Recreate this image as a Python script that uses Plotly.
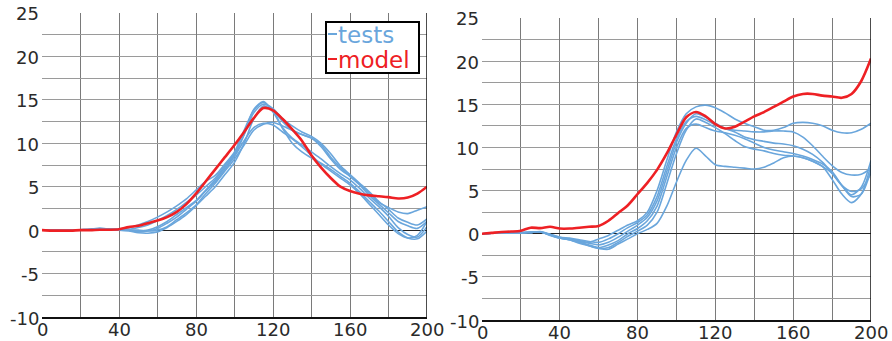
import plotly.graph_objects as go

W, H = 892, 341

x = list(range(0, 201, 5))

# ---------- left panel ----------
left_model = [0, -0.05, -0.05, -0.05, 0, 0, 0.05, 0.05, 0.1,
              0.35, 0.5, 0.8, 1.1, 1.5, 2.1, 3.0, 4.2,
              5.6, 7.0, 8.4, 9.8, 11.3, 12.9, 14.05, 13.8,
              12.8, 11.6, 10.3, 8.6, 7.2, 6.0, 5.0, 4.5,
              4.2, 4.0, 3.9, 3.8, 3.65, 3.75, 4.2, 5.0]

left_tests = [
    [0, 0, 0, 0, 0.05, 0.1, 0.15, 0.1, 0.1,
     0.3, 0.6, 1.0, 1.5, 2.1, 2.8, 3.6, 4.6,
     5.6, 6.3, 7.6, 9.0, 11.5, 13.8, 14.7, 13.8,
     12.5, 11.5, 11.0, 10.6, 9.6, 8.2, 7.0, 6.2,
     5.3, 4.2, 3.2, 2.6, 2.1, 1.9, 2.3, 2.7],
    [0, 0, -0.05, 0, 0.05, 0.1, 0.2, 0.15, 0.1,
     0.1, 0.3, 0.6, 1.1, 1.7, 2.4, 3.2, 4.0,
     5.0, 6.0, 7.4, 8.8, 11.0, 13.5, 14.5, 14.0,
     12.8, 12.0, 11.3, 10.8, 10.0, 8.8, 7.4, 6.4,
     5.4, 4.4, 3.3, 2.4, 1.4, 0.9, 0.6, 1.3],
    [0, 0, 0, 0, 0, 0.05, 0.1, 0.05, 0,
     0, -0.1, 0, 0.4, 1.0, 1.8, 2.6, 3.4,
     4.6, 5.8, 7.2, 8.6, 11.0, 13.9, 14.8, 13.6,
     11.8, 10.6, 9.8, 9.0, 8.2, 7.3, 6.5, 5.8,
     4.8, 3.7, 2.7, 1.6, 0.3, -0.5, -0.8, 0.4],
    [0, 0, 0, 0, 0, 0.05, 0.1, 0.05, 0,
     -0.1, -0.3, -0.35, -0.2, 0.3, 1.0, 1.8, 2.8,
     3.9, 5.0, 6.4, 7.8, 10.0, 12.8, 14.3, 13.7,
     11.7, 10.0, 9.0, 8.3, 7.7, 7.0, 6.2, 5.4,
     4.4, 3.3, 2.2, 1.0, -0.2, -0.9, -1.0, -0.1],
    [0, 0, 0, 0, 0.05, 0.1, 0.2, 0.1, 0.05,
     0, 0, -0.1, 0, 0.4, 1.2, 2.0, 2.9,
     4.2, 5.4, 6.8, 8.2, 9.8, 11.5, 12.2, 12.4,
     12.0, 11.5, 11.0, 10.6, 9.8, 8.4, 7.2, 6.2,
     5.2, 4.0, 3.0, 2.0, 1.0, 0.5, 0.2, 1.0],
    [0, 0, 0, 0, 0, 0.05, 0.1, 0.05, 0,
     0, -0.2, -0.1, 0.2, 0.8, 1.5, 2.4, 3.3,
     4.5, 5.6, 7.0, 8.5, 10.3, 11.8, 12.3, 12.1,
     11.3, 10.5, 9.6, 8.6, 7.6, 6.8, 6.0, 5.2,
     4.2, 3.0, 1.8, 0.6, -0.4, -0.9, -0.6, 1.0],
]

# ---------- right panel ----------
right_model = [0, 0.1, 0.2, 0.25, 0.35, 0.7, 0.65, 0.8, 0.6,
               0.6, 0.7, 0.8, 0.9, 1.5, 2.4, 3.3, 4.6,
               5.9, 7.4, 9.3, 11.5, 13.5, 14.1, 13.6, 12.7,
               12.2, 12.4, 13.0, 13.6, 14.1, 14.7, 15.3, 15.9,
               16.2, 16.2, 16.0, 15.9, 15.75, 16.2, 17.7, 20.3]

right_tests = [
    [0, 0.05, 0.05, 0.1, 0.1, 0.15, 0.2, -0.1, -0.4,
     -0.6, -0.8, -1.0, -0.6, -0.2, 0.4, 1.0, 1.5,
     2.5, 5.0, 8.5, 11.8, 13.9, 14.7, 14.9, 14.6,
     14.0, 13.3, 12.8, 12.4, 12.0, 12.0, 12.3, 12.8,
     12.9, 12.8, 12.5, 12.0, 11.7, 11.7, 12.1, 12.8],
    [0, 0.05, 0.05, 0.1, 0.15, 0.15, 0.25, -0.05, -0.4,
     -0.5, -0.7, -0.9, -1.0, -0.6, 0.0, 0.7, 1.3,
     2.2, 4.3, 7.8, 11.0, 13.0, 13.6, 13.2, 12.6,
     12.2, 12.0, 11.9, 11.8, 11.8, 11.9, 11.9, 11.8,
     11.2, 10.2, 9.0, 7.9, 7.1, 6.8, 6.9, 7.6],
    [0, 0.05, 0.05, 0.1, 0.1, 0.2, 0.2, -0.1, -0.5,
     -0.6, -0.9, -1.1, -1.3, -1.0, -0.4, 0.3, 1.0,
     1.9, 3.8, 7.2, 10.6, 12.8, 13.9, 13.5, 12.8,
     12.2, 11.8, 11.2, 10.9, 10.7, 10.5, 10.4, 10.2,
     9.8, 9.2, 8.3, 7.0, 5.6, 4.9, 5.2, 7.0],
    [0, 0.05, 0.05, 0.1, 0.1, 0.15, 0.2, -0.15, -0.5,
     -0.7, -1.0, -1.3, -1.6, -1.3, -0.8, 0.0, 0.6,
     1.5, 3.2, 6.6, 10.0, 12.2, 12.7, 12.3, 11.9,
     11.7, 11.4, 11.0, 10.5, 10.0, 9.7, 9.5, 9.3,
     9.0, 8.6, 8.1, 7.2, 5.6, 4.3, 4.6, 7.4],
    [0, 0.05, 0.05, 0.1, 0.1, 0.15, 0.2, -0.15, -0.5,
     -0.7, -1.0, -1.4, -1.7, -1.6, -1.0, -0.3, 0.3,
     1.0, 2.5, 5.8, 9.3, 12.0, 13.3, 12.9, 12.3,
     11.6, 10.8, 10.1, 9.8, 9.6, 9.3, 9.1, 9.0,
     8.8, 8.4, 7.8, 6.3, 4.6, 3.6, 4.6, 8.0],
    [0, 0.05, 0.05, 0.1, 0.1, 0.15, 0.2, -0.2, -0.5,
     -0.7, -1.1, -1.4, -1.7, -1.8, -1.2, -0.6, 0.0,
     0.5, 1.2, 3.2, 6.0, 8.5, 9.9, 9.0, 8.0,
     7.8, 7.7, 7.6, 7.5, 7.7, 8.2, 8.8, 9.0,
     8.8, 8.4, 7.8, 7.0, 5.6, 4.5, 5.4, 8.5],
]

x_ticks = [0, 40, 80, 120, 160, 200]
y_ticks = [-10, -5, 0, 5, 10, 15, 20, 25]

BLUE = "#6aa6dc"
RED = "#ee2024"
FONT = "DejaVu Sans"
TICKFONT = dict(family=FONT, size=18, color="#2a2a2a")

fig = go.Figure()

for xa, ya, tests, model in [("x", "y", left_tests, left_model),
                             ("x2", "y2", right_tests, right_model)]:
    for t in tests:
        fig.add_trace(go.Scatter(x=x, y=t, mode="lines", xaxis=xa, yaxis=ya,
                                 line=dict(color=BLUE, width=1.6, shape="spline", smoothing=0.8),
                                 showlegend=False, hoverinfo="skip"))
    fig.add_trace(go.Scatter(x=x, y=model, mode="lines", xaxis=xa, yaxis=ya,
                             line=dict(color=RED, width=2.6, shape="spline", smoothing=0.8),
                             showlegend=False, hoverinfo="skip"))


def xax(domain):
    return dict(domain=domain, range=[0, 200], tickvals=x_ticks,
                showticklabels=False,
                showgrid=True, gridcolor="#7a7a7a", gridwidth=1.3,
                minor=dict(dtick=20, tick0=0, showgrid=True, gridcolor="#7a7a7a", gridwidth=1.3),
                zeroline=False, showline=True, linecolor="#111", linewidth=1.5,
                ticks="", automargin=False, fixedrange=True)


def yax(domain, anchor):
    return dict(domain=domain, range=[-10, 25], tickvals=y_ticks, anchor=anchor,
                showticklabels=False,
                showgrid=True, gridcolor="#9a9a9a", gridwidth=1.2,
                minor=dict(dtick=2.5, tick0=0, showgrid=True, gridcolor="#9a9a9a", gridwidth=1.2),
                zeroline=True, zerolinecolor="#222", zerolinewidth=1,
                showline=False, ticks="", automargin=False, fixedrange=True)


fig.update_layout(
    width=W, height=H,
    margin=dict(l=0, r=0, t=0, b=0),
    paper_bgcolor="white", plot_bgcolor="white",
    xaxis=dict(xax([42 / W, 427 / W]), anchor="y"),
    yaxis=yax([1 - 317 / H, 1 - 13 / H], "x"),
    xaxis2=dict(xax([482 / W, 871 / W]), anchor="y2"),
    yaxis2=yax([1 - 320 / H, 1 - 18 / H], "x2"),
    showlegend=False,
)

# tick labels placed through the axes' own scales
for xr, yr in [("x", "y"), ("x2", "y2")]:
    for v in x_ticks:
        fig.add_annotation(xref=xr, yref=yr + " domain", x=v, y=0, text=str(v),
                           showarrow=False, xanchor="center", yanchor="top",
                           height=16, valign="middle",
                           yshift=-3, borderpad=0, font=TICKFONT)
    for v in y_ticks:
        fig.add_annotation(xref=xr + " domain", yref=yr, x=0, y=v, text=str(v),
                           showarrow=False, xanchor="right", yanchor="middle",
                           xshift=-2, yshift=-1, borderpad=0, font=TICKFONT)

# black right-hand frame lines
for xr, yr in [("x", "y domain"), ("x2", "y2 domain")]:
    fig.add_shape(type="line", xref=xr, yref=yr, x0=200, x1=200, y0=0, y1=1,
                  line=dict(color="#111", width=1.5), layer="above")

# legend box (left panel)
fig.add_shape(type="rect", xref="paper", yref="paper",
              x0=326 / W, x1=419 / W, y0=1 - 73 / H, y1=1 - 22 / H,
              line=dict(color="black", width=2), fillcolor="white", layer="above")
for label, col, py in [("tests", BLUE, 35), ("model", RED, 60)]:
    fig.add_shape(type="line", xref="paper", yref="paper",
                  x0=328 / W, x1=337 / W, y0=1 - (py - 1) / H, y1=1 - (py - 1) / H,
                  line=dict(color=col, width=2), layer="above")
    fig.add_annotation(xref="paper", yref="paper", x=337 / W, y=1 - py / H,
                       text=label, showarrow=False, xanchor="left", yanchor="middle",
                       font=dict(family=FONT, size=23, color=col),
                       height=24, borderpad=0)

fig.write_html("out.html")
